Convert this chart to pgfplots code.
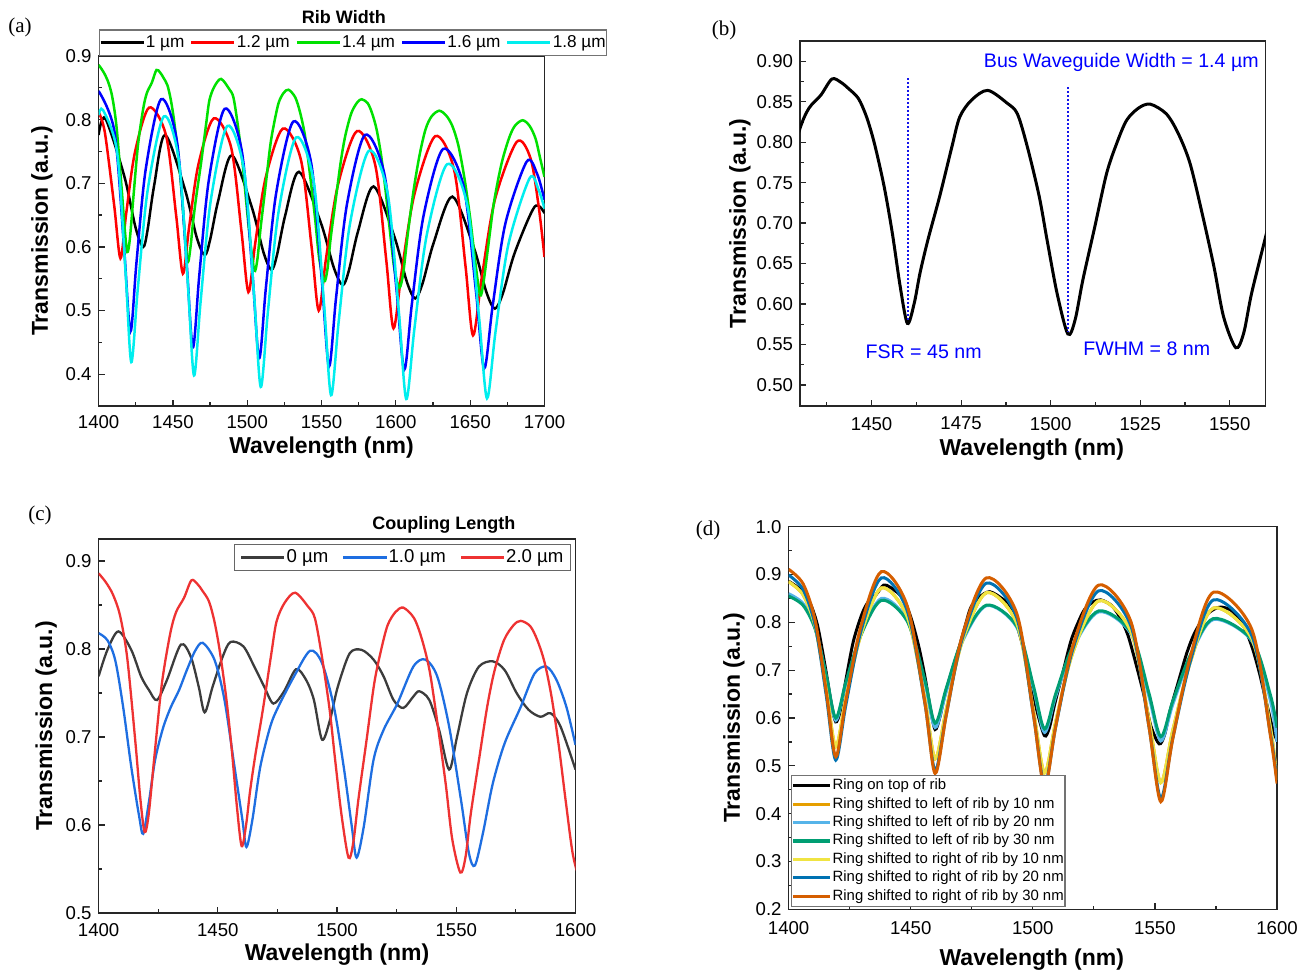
\documentclass[border=0pt]{standalone}
\usepackage{fontspec}
\setmainfont{Liberation Sans}
\newfontfamily\serifpanel{Liberation Serif}
\usepackage{pgfplots}
\usepackage{pgfplotstable}
\pgfplotsset{compat=1.18}

% colours
\definecolor{agreen}{RGB}{0,225,0}
\definecolor{acyan}{RGB}{0,238,238}
\definecolor{cgray}{RGB}{60,60,60}
\definecolor{cblue}{RGB}{30,110,225}
\definecolor{cred}{RGB}{238,50,50}
\definecolor{dorange}{HTML}{E69F00}
\definecolor{dsky}{HTML}{56B4E9}
\definecolor{dgreen}{HTML}{009E73}
\definecolor{dyellow}{HTML}{F0E442}
\definecolor{dblue}{HTML}{0072B2}
\definecolor{dverm}{HTML}{D55E00}
\definecolor{annblue}{RGB}{20,20,235}

\newcommand\tickfont{\fontsize{9.3}{11}\selectfont}

% 1.4 um rib / 2.0 um coupling / ring on top: the same spectrum
\pgfplotstableread{
x y
1400 0.886
1403 0.876
1406 0.862
1409 0.838
1412 0.790
1415.4 0.695
1417.5 0.630
1419.3 0.592
1421 0.612
1423.4 0.678
1426.5 0.760
1430 0.817
1432.5 0.842
1435.8 0.858
1438.9 0.878
1441.4 0.874
1443.6 0.866
1446.3 0.854
1448.6 0.831
1450.8 0.798
1453.5 0.745
1455.8 0.687
1458 0.621
1460 0.576
1461.9 0.601
1463.5 0.638
1465.7 0.679
1469 0.733
1472.4 0.794
1474.6 0.831
1477.9 0.852
1482.4 0.864
1487.9 0.848
1490.7 0.835
1493.5 0.794
1496.8 0.733
1499 0.679
1501.8 0.613
1504.8 0.563
1506.8 0.580
1509 0.630
1512.3 0.695
1515.6 0.761
1518.4 0.798
1521.2 0.827
1524.5 0.842
1527.8 0.847
1532.3 0.835
1535.6 0.811
1538.9 0.774
1542.3 0.712
1545.6 0.646
1548.3 0.584
1551.7 0.546
1553.9 0.564
1556.1 0.613
1559.8 0.679
1563 0.735
1566 0.775
1570 0.810
1574 0.827
1577 0.832
1581 0.826
1584 0.810
1587 0.785
1590 0.745
1593 0.690
1596 0.625
1599 0.565
1602.4 0.536
1605 0.560
1608 0.620
1612 0.690
1616 0.745
1620 0.785
1624 0.805
1629.2 0.814
1634 0.806
1638 0.790
1642 0.760
1646 0.710
1650 0.645
1653.5 0.575
1656.7 0.524
1659 0.545
1662.4 0.606
1666 0.670
1671 0.730
1676 0.770
1680 0.790
1685.3 0.799
1690 0.790
1694 0.770
1697 0.740
1700 0.710
}\tabS

\pgfplotsset{
  panel/.style={
    scale only axis,
    clip mode=individual,
    axis line style={line width=0.7pt, black!85},
    tick align=inside,
    xtick pos=lower, ytick pos=left,
    major tick length=3pt, minor tick length=1.8pt,
    tick style={line width=0.6pt, black!85},
    scaled ticks=false,
    tick label style={font=\tickfont},
    xticklabel style={/pgf/number format/1000 sep={}, /pgf/number format/assume math mode=true},
    yticklabel style={/pgf/number format/fixed, /pgf/number format/fixed zerofill,
      /pgf/number format/precision=1, /pgf/number format/assume math mode=true},
    label style={font=\fontsize{11.5}{13}\selectfont\bfseries},
    xlabel={Wavelength (nm)},
    ylabel={Transmission (a.u.)},
  },
}

\begin{document}
\begin{tikzpicture}
\useasboundingbox (0,0) rectangle (654.5pt,484.5pt);

% ---------------- (a) ----------------
\begin{axis}[panel,
  at={(49.3pt,281.5pt)}, anchor=south west,
  width=222.95pt, height=175pt,
  xmin=1400, xmax=1700, ymin=0.35, ymax=0.9,
  xtick={1400,1450,1500,1550,1600,1650,1700},
  minor xtick={1425,1475,1525,1575,1625,1675},
  ytick={0.4,0.5,0.6,0.7,0.8,0.9},
  minor ytick={0.45,0.55,0.65,0.75,0.85},
  xticklabel style={/tikz/yshift=-1pt},
  xlabel style={at={(axis description cs:0.5,-0.12)}, anchor=center},
  ylabel style={at={(axis description cs:-0.127,0.5)}, anchor=center},
  legend style={at={(axis description cs:0,1)}, anchor=south west,
    legend columns=5, font=\fontsize{8.6}{10}\selectfont,
    draw=black!55, line width=0.6pt, inner xsep=0pt, inner ysep=1pt,
    nodes={inner xsep=0.5pt, inner ysep=1.6pt},
    /tikz/every even column/.append style={column sep=2.4pt}},
  legend image code/.code={\draw[#1, line width=1.3pt] (0pt,0pt) -- (21.5pt,0pt);},
]
\addplot[black, line width=1.25pt, smooth] coordinates {
(1400,0.776) (1404.5,0.802) (1417.3,0.711) (1424.9,0.630) (1430,0.600) (1432.9,0.626)
(1437.4,0.697) (1444.7,0.776) (1458,0.691) (1466,0.615) (1471.4,0.587) (1475,0.611)
(1480.5,0.673) (1489.6,0.744) (1503,0.663) (1511,0.591) (1516.3,0.564) (1520,0.587)
(1525.5,0.649) (1534.8,0.718) (1549.5,0.638) (1558.3,0.567) (1564.2,0.540) (1568.4,0.563)
(1574.6,0.625) (1585,0.695) (1599,0.616) (1607.4,0.545) (1613,0.519) (1618,0.543)
(1625.5,0.607) (1638,0.679) (1652.3,0.600) (1660.9,0.529) (1666.6,0.503) (1672,0.527)
(1680,0.591) (1693.3,0.663) (1700,0.653)};
\addplot[red, line width=1.25pt, smooth] coordinates {
(1400,0.812) (1404.2,0.780) (1410.5,0.665) (1414.7,0.582) (1418.6,0.653) (1424.4,0.748)
(1434,0.819) (1445.4,0.775) (1452.2,0.649) (1456.7,0.558) (1460.9,0.631) (1467.1,0.729)
(1477.5,0.802) (1489.2,0.756) (1496.1,0.625) (1500.8,0.529) (1505.4,0.606) (1512.4,0.709)
(1524,0.786) (1536.1,0.737) (1543.3,0.600) (1548.1,0.500) (1553.2,0.585) (1561,0.697)
(1573.8,0.782) (1586.1,0.729) (1593.5,0.580) (1598.4,0.472) (1604,0.563) (1612.5,0.683)
(1626.5,0.774) (1639.2,0.721) (1646.8,0.571) (1651.9,0.461) (1657.8,0.552) (1666.6,0.674)
(1681.3,0.765) (1690.5,0.740) (1696,0.665) (1700,0.584)};
\addplot[agreen, line width=1.25pt, smooth] table {\tabS};
\addplot[blue, line width=1.25pt, smooth] coordinates {
(1400,0.845) (1410.7,0.781) (1417.1,0.600) (1421.4,0.467) (1425.5,0.576) (1431.7,0.722)
(1442,0.832) (1452.7,0.766) (1459.1,0.579) (1463.4,0.442) (1467.7,0.554) (1474.1,0.704)
(1484.8,0.817) (1496.4,0.750) (1503.4,0.562) (1508,0.425) (1512.6,0.537) (1519.5,0.685)
(1531,0.797) (1543,0.732) (1550.2,0.547) (1555,0.412) (1559.8,0.521) (1567.1,0.667)
(1579.2,0.776) (1592.4,0.713) (1600.3,0.536) (1605.6,0.407) (1610.8,0.511) (1618.7,0.650)
(1631.8,0.754) (1645.6,0.695) (1653.9,0.530) (1659.4,0.409) (1665.1,0.507) (1673.7,0.637)
(1688,0.734) (1695,0.715) (1700,0.674)};
\addplot[acyan, line width=1.25pt, smooth] coordinates {
(1400,0.807) (1403,0.815) (1412.5,0.748) (1418.2,0.558) (1422,0.419) (1426.4,0.535)
(1433,0.689) (1443.9,0.805) (1454,0.736) (1460.1,0.540) (1464.2,0.398) (1468.7,0.516)
(1475.4,0.672) (1486.6,0.790) (1497.9,0.720) (1504.6,0.524) (1509.1,0.380) (1513.9,0.498)
(1521,0.654) (1532.9,0.772) (1544.7,0.703) (1551.7,0.509) (1556.4,0.367) (1561.5,0.482)
(1569.1,0.636) (1581.8,0.751) (1594.4,0.685) (1602,0.498) (1607,0.361) (1612.5,0.472)
(1620.8,0.619) (1634.5,0.730) (1647.9,0.667) (1655.9,0.491) (1661.3,0.362) (1667,0.466)
(1675.7,0.604) (1690,0.708) (1696,0.690) (1700,0.660)};
\legend{1 µm, 1.2 µm, 1.4 µm, 1.6 µm, 1.8 µm}
\node[font=\fontsize{9}{11}\selectfont\bfseries] at (axis description cs:0.55,1.111) {Rib Width};
\end{axis}

% ---------------- (b) ----------------
\begin{axis}[panel,
  at={(400pt,281.5pt)}, anchor=south west,
  width=232.75pt, height=182.5pt,
  xmin=1430, xmax=1560, ymin=0.474, ymax=0.925,
  xtick={1450,1475,1500,1525,1550},
  minor xtick={1437.5,1462.5,1487.5,1512.5,1537.5},
  ytick={0.50,0.55,0.60,0.65,0.70,0.75,0.80,0.85,0.90},
  minor ytick={0.525,0.575,0.625,0.675,0.725,0.775,0.825,0.875},
  xticklabel style={/tikz/yshift=-2pt},
  yticklabel style={/pgf/number format/precision=2},
  xlabel style={at={(axis description cs:0.498,-0.12)}, anchor=center},
  ylabel style={at={(axis description cs:-0.129,0.5)}, anchor=center},
]
\addplot[black, line width=1.5pt, smooth] table {\tabS};
\addplot[annblue, line width=1pt, dash pattern=on 1.1pt off 0.9pt] coordinates {(1460.1,0.879) (1460.1,0.578)};
\addplot[annblue, line width=1pt, dash pattern=on 1.1pt off 0.9pt] coordinates {(1504.8,0.868) (1504.8,0.565)};
\node[anchor=east, text=blue, font=\fontsize{9.8}{11}\selectfont, inner sep=0pt] at (axis cs:1558.2,0.899) {Bus Waveguide Width = 1.4 µm};
\node[anchor=west, text=blue, font=\fontsize{9.8}{11}\selectfont, inner sep=0pt] at (axis cs:1448.2,0.541) {FSR = 45 nm};
\node[anchor=west, text=blue, font=\fontsize{9.8}{11}\selectfont, inner sep=0pt] at (axis cs:1509,0.545) {FWHM = 8 nm};
\end{axis}

% ---------------- (c) ----------------
\begin{axis}[panel,
  at={(49.3pt,28pt)}, anchor=south west,
  width=238.45pt, height=187pt,
  xmin=1400, xmax=1600, ymin=0.5, ymax=0.925,
  xtick={1400,1450,1500,1550,1600},
  minor xtick={1425,1475,1525,1575},
  ytick={0.5,0.6,0.7,0.8,0.9},
  minor ytick={0.55,0.65,0.75,0.85},
  xticklabel style={/tikz/yshift=-1.5pt},
  xlabel style={at={(axis description cs:0.5,-0.112)}, anchor=center},
  ylabel style={at={(axis description cs:-0.110,0.5)}, anchor=center},
  legend style={at={(axis description cs:0.9906,0.9866)}, anchor=north east,
    legend columns=3, font=\fontsize{9.3}{11}\selectfont,
    draw=black!60, line width=0.6pt, inner xsep=3pt, inner ysep=1pt,
    nodes={inner xsep=0.5pt, inner ysep=1.5pt},
    /tikz/every even column/.append style={column sep=6.5pt}},
  legend image code/.code={\draw[#1, line width=1.15pt] (0pt,0pt) -- (21.5pt,0pt);},
]
\addplot[cgray, line width=1.15pt, smooth] coordinates {
(1400,0.769) (1403.7,0.799) (1408.3,0.820) (1413.7,0.799) (1417.8,0.769) (1421.2,0.753)
(1424.5,0.742) (1428.7,0.765) (1434.5,0.805) (1438.7,0.791) (1442,0.757) (1444.5,0.728)
(1447.8,0.757) (1452,0.791) (1455.3,0.808) (1460.7,0.803) (1465.3,0.780) (1469.5,0.757)
(1473.3,0.738) (1477.8,0.752) (1482.8,0.777) (1487,0.765) (1490.3,0.742) (1493.7,0.697)
(1497,0.719) (1500.3,0.757) (1505.3,0.795) (1510.3,0.799) (1515.3,0.788) (1519.5,0.769)
(1523.7,0.742) (1527.8,0.733) (1532,0.746) (1534.5,0.752) (1538.7,0.742) (1542.8,0.708)
(1547,0.663) (1550.3,0.700) (1554.5,0.750) (1559.5,0.780) (1565.3,0.786) (1570.3,0.776)
(1575.3,0.750) (1580.3,0.731) (1585.3,0.723) (1589.5,0.727) (1593.7,0.712) (1600,0.663)};
\addplot[cblue, line width=1.15pt, smooth] coordinates {
(1400,0.818) (1403.7,0.810) (1407,0.787) (1410.3,0.734) (1413.7,0.666) (1417,0.610)
(1418.7,0.590) (1421.2,0.628) (1423.7,0.674) (1427,0.710) (1430.3,0.734) (1433.7,0.753)
(1437,0.776) (1440.5,0.798) (1443.7,0.807) (1448.7,0.787) (1452.8,0.742) (1457,0.666)
(1460.3,0.606) (1462,0.575) (1464.5,0.606) (1467.8,0.666) (1472,0.712) (1475.3,0.734)
(1482,0.769) (1488.7,0.798) (1493.7,0.784) (1498.7,0.734) (1502.8,0.666) (1506.2,0.598)
(1508.2,0.563) (1511.2,0.598) (1515.3,0.674) (1519.5,0.708) (1525.3,0.738) (1532,0.780)
(1537,0.788) (1542,0.769) (1547,0.712) (1552,0.628) (1555.3,0.568) (1557.8,0.554)
(1561.2,0.591) (1565.3,0.647) (1570.3,0.693) (1577,0.734) (1582.8,0.772) (1587.8,0.780)
(1592,0.765) (1596.2,0.734) (1600,0.691)};
\addplot[cred, line width=1.15pt, smooth] table {\tabS};
\legend{0 µm, 1.0 µm, 2.0 µm}
\node[font=\fontsize{9}{11}\selectfont\bfseries] at (axis description cs:0.724,1.037) {Coupling Length};
\end{axis}

% ---------------- (d) ----------------
\begin{axis}[panel,
  at={(394.3pt,29.85pt)}, anchor=south west,
  width=244.2pt, height=191.3pt,
  xmin=1400, xmax=1600, ymin=0.2, ymax=1.0,
  xtick={1400,1450,1500,1550,1600},
  minor xtick={1425,1475,1525,1575},
  ytick={0.2,0.3,0.4,0.5,0.6,0.7,0.8,0.9,1.0},
  minor ytick={0.25,0.35,0.45,0.55,0.65,0.75,0.85,0.95},
  xticklabel style={/tikz/yshift=-2.5pt},
  xlabel style={at={(axis description cs:0.498,-0.1325)}, anchor=center},
  ylabel style={at={(axis description cs:-0.112,0.5)}, anchor=center},
  legend style={at={(axis description cs:0.005,0.006)}, anchor=south west,
    legend columns=1, font=\fontsize{7.45}{8.5}\selectfont,
    draw=black!55, line width=0.6pt, inner xsep=0pt, inner ysep=0.5pt,
    nodes={inner xsep=0.6pt, inner ysep=1.15pt}},
  legend cell align=left,
  legend image code/.code={\draw[#1, line width=1.6pt] (0pt,0pt) -- (18.3pt,0pt);},
]
\addplot[black, line width=1.5pt, smooth] table {\tabS};
\addplot[dorange, line width=1.5pt, smooth] coordinates {
(1400,0.885) (1406,0.857) (1411,0.788) (1415.5,0.657) (1419.3,0.540) (1423.4,0.640)
(1429.5,0.772) (1438,0.872) (1448.6,0.811) (1455.8,0.640) (1460,0.515) (1464.6,0.619)
(1471,0.758) (1481,0.862) (1493.4,0.798) (1500.2,0.617) (1504.8,0.485) (1509.4,0.593)
(1516.4,0.737) (1527,0.845) (1540.2,0.780) (1547.5,0.598) (1552.4,0.465) (1557.3,0.574)
(1564.7,0.720) (1574,0.830) (1589.7,0.765) (1597.3,0.580) (1600,0.470)};
\addplot[dsky, line width=1.5pt, smooth] coordinates {
(1400,0.860) (1406,0.839) (1411,0.786) (1415.5,0.685) (1419.3,0.595) (1423.4,0.671)
(1429.5,0.773) (1438,0.850) (1448.6,0.804) (1455.8,0.674) (1460,0.580) (1464.6,0.656)
(1471,0.758) (1481,0.835) (1493.4,0.790) (1500.2,0.663) (1504.8,0.570) (1509.4,0.646)
(1516.4,0.746) (1527,0.822) (1540.2,0.776) (1547.5,0.646) (1552.4,0.552) (1557.3,0.628)
(1564.7,0.730) (1574,0.806) (1589.7,0.761) (1597.3,0.636) (1600,0.550)};
\addplot[dgreen, line width=1.5pt, smooth] coordinates {
(1400,0.855) (1406,0.835) (1411,0.784) (1415.5,0.687) (1419.3,0.600) (1423.4,0.674)
(1429.5,0.772) (1438,0.846) (1448.6,0.802) (1455.8,0.679) (1460,0.589) (1464.6,0.663)
(1471,0.762) (1481,0.836) (1493.4,0.792) (1500.2,0.668) (1504.8,0.577) (1509.4,0.651)
(1516.4,0.750) (1527,0.824) (1540.2,0.779) (1547.5,0.653) (1552.4,0.561) (1557.3,0.635)
(1564.7,0.734) (1574,0.808) (1589.7,0.763) (1597.3,0.648) (1600,0.580)};
\addplot[dyellow, line width=1.5pt, smooth] coordinates {
(1400,0.885) (1406,0.857) (1411,0.788) (1415.5,0.657) (1419.3,0.540) (1423.4,0.640)
(1429.5,0.772) (1438,0.872) (1448.6,0.811) (1455.8,0.640) (1460,0.515) (1464.6,0.619)
(1471,0.758) (1481,0.862) (1493.4,0.798) (1500.2,0.617) (1504.8,0.485) (1509.4,0.593)
(1516.4,0.737) (1527,0.845) (1540.2,0.780) (1547.5,0.598) (1552.4,0.465) (1557.3,0.574)
(1564.7,0.720) (1574,0.830) (1589.7,0.765) (1597.3,0.580) (1600,0.470)};
\addplot[dblue, line width=1.5pt, smooth] coordinates {
(1400,0.899) (1406,0.868) (1411,0.791) (1415.5,0.644) (1419.3,0.512) (1423.4,0.626)
(1429.5,0.779) (1438,0.893) (1448.6,0.824) (1455.8,0.631) (1460,0.490) (1464.6,0.608)
(1471,0.764) (1481,0.882) (1493.4,0.810) (1500.2,0.608) (1504.8,0.460) (1509.4,0.582)
(1516.4,0.744) (1527,0.866) (1540.2,0.792) (1547.5,0.584) (1552.4,0.432) (1557.3,0.557)
(1564.7,0.722) (1574,0.847) (1589.7,0.772) (1597.3,0.567) (1600,0.470)};
\addplot[dverm, line width=1.5pt, smooth] coordinates {
(1400,0.911) (1406,0.880) (1411,0.801) (1415.5,0.652) (1419.3,0.519) (1423.4,0.635)
(1429.5,0.790) (1438,0.906) (1448.6,0.834) (1455.8,0.632) (1460,0.484) (1464.6,0.607)
(1471,0.770) (1481,0.893) (1493.4,0.819) (1500.2,0.609) (1504.8,0.456) (1509.4,0.583)
(1516.4,0.751) (1527,0.878) (1540.2,0.801) (1547.5,0.584) (1552.4,0.425) (1557.3,0.556)
(1564.7,0.732) (1574,0.863) (1589.7,0.785) (1597.3,0.563) (1600,0.463)};
\legend{Ring on top of rib, Ring shifted to left of rib by 10 nm, Ring shifted to left of rib by 20 nm,
  Ring shifted to left of rib by 30 nm, Ring shifted to right of rib by 10 nm,
  Ring shifted to right of rib by 20 nm, Ring shifted to right of rib by 30 nm}
\end{axis}

% panel letters
\node[font=\serifpanel\fontsize{10.5}{12}\selectfont] at (10pt,471pt) {(a)};
\node[font=\serifpanel\fontsize{10.5}{12}\selectfont] at (362pt,469.5pt) {(b)};
\node[font=\serifpanel\fontsize{10.5}{12}\selectfont] at (20pt,227pt) {(c)};
\node[font=\serifpanel\fontsize{10.5}{12}\selectfont] at (354pt,219.5pt) {(d)};
\end{tikzpicture}
\end{document}
